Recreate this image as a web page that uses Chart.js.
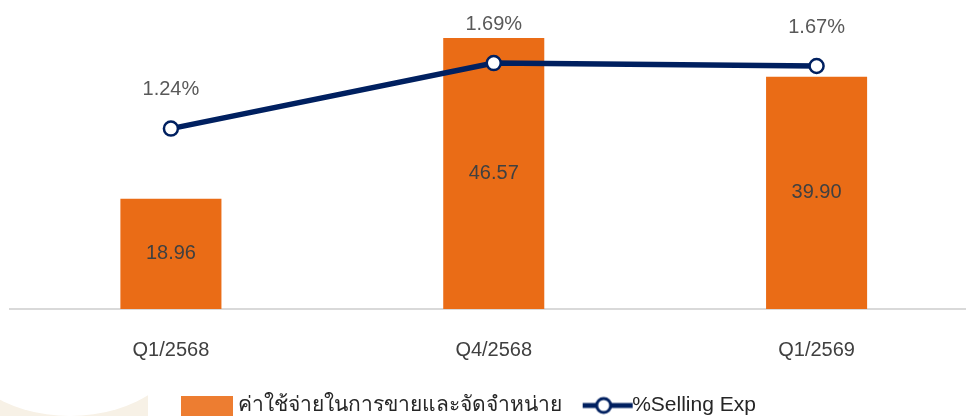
<!DOCTYPE html>
<html>
<head>
<meta charset="utf-8">
<script src="https://cdn.jsdelivr.net/npm/chart.js@4.4.1/dist/chart.umd.min.js"></script>
<style>
  html, body { margin: 0; padding: 0; background: #fff; overflow: hidden; width: 966px; height: 416px; }
  .deco { position: absolute; left: 0; top: 380px; width: 148px; height: 36px; background: #f7f1e6; overflow: hidden; }
  .deco div { position: absolute; left: -50px; top: -136px; width: 240px; height: 172px; border-radius: 50%; background: #fff; }
  .wrap { position: absolute; left: 0; top: 0; width: 990px; height: 426px; }
</style>
</head>
<body>
<div class="deco"><div></div></div>
<div class="wrap"><canvas id="chart"></canvas></div>
<script>
const categories = ["Q1/2568", "Q4/2568", "Q1/2569"];
const sellingExp = [18.96, 46.57, 39.90];
const sellingPct = [1.24, 1.69, 1.67];
const seriesNames = ["ค่าใช้จ่ายในการขายและจัดจำหน่าย", "%Selling Exp"];

const orange = "#EA6C16";
const navy = "#002060";

// little pictures for the legend markers
function makeBoxIcon() {
  const c = document.createElement("canvas");
  c.width = 52; c.height = 20;
  const g = c.getContext("2d");
  g.fillStyle = "#ED7D31";
  g.fillRect(0, 0, 52, 20);
  return c;
}
function makeLineIcon() {
  const c = document.createElement("canvas");
  c.width = 100; c.height = 20;
  const g = c.getContext("2d");
  g.strokeStyle = navy;
  g.lineWidth = 5;
  g.beginPath(); g.moveTo(31, 10); g.lineTo(81, 10); g.stroke();
  g.beginPath(); g.arc(52, 10, 7, 0, Math.PI * 2);
  g.fillStyle = "#fff"; g.fill();
  g.lineWidth = 3; g.stroke();
  return c;
}

const valueLabels = {
  id: "valueLabels",
  afterDatasetsDraw(chart) {
    const ctx = chart.ctx;
    ctx.save();
    ctx.font = "20px 'Liberation Sans', Arial, sans-serif";
    ctx.textAlign = "center";
    ctx.textBaseline = "middle";
    chart.getDatasetMeta(1).data.forEach((bar, i) => {
      ctx.fillStyle = "#404040";
      ctx.fillText(sellingExp[i].toFixed(2), bar.x, (bar.y + bar.base) / 2);
    });
    chart.getDatasetMeta(0).data.forEach((pt, i) => {
      ctx.fillStyle = "#595959";
      ctx.fillText(sellingPct[i].toFixed(2) + "%", pt.x, pt.y - 39);
    });
    ctx.restore();
  }
};

const legendShift = {
  id: "legendShift",
  afterLayout(chart) {
    chart.legend.left -= 21;
    chart.legend.right -= 21;
  }
};

new Chart(document.getElementById("chart"), {
  data: {
    labels: categories,
    datasets: [
      {
        type: "line",
        label: seriesNames[1],
        data: sellingPct,
        yAxisID: "y1",
        borderColor: navy,
        borderWidth: 5.5,
        pointRadius: 7,
        pointBorderWidth: 2.5,
        pointBackgroundColor: "#fff",
        pointBorderColor: navy,
        order: 0
      },
      {
        type: "bar",
        label: seriesNames[0],
        data: sellingExp,
        yAxisID: "y",
        backgroundColor: orange,
        categoryPercentage: 1,
        barPercentage: 0.313,
        order: 1
      }
    ]
  },
  options: {
    responsive: true,
    maintainAspectRatio: false,
    animation: false,
    layout: { padding: { left: 7, right: 12, top: 18, bottom: 0 } },
    plugins: {
      tooltip: { enabled: false },
      legend: {
        position: "bottom",
        labels: {
          usePointStyle: true,
          pointStyleWidth: 40,
          boxHeight: 20,
          padding: 20,
          color: "#262626",
          font: { size: 21, family: "'Liberation Sans', Arial, sans-serif" },
          generateLabels() {
            return [
              { text: seriesNames[0], pointStyle: makeBoxIcon(), datasetIndex: 1, fontColor: "#262626", lineWidth: 0, strokeStyle: "transparent", fillStyle: "transparent", hidden: false },
              { text: seriesNames[1], pointStyle: makeLineIcon(), datasetIndex: 0, fontColor: "#262626", lineWidth: 0, strokeStyle: "transparent", fillStyle: "transparent", hidden: false }
            ];
          }
        }
      }
    },
    scales: {
      x: {
        grid: { display: false, drawTicks: false },
        border: { display: true, color: "#d9d9d9", width: 2 },
        afterFit(scale) { scale.height = 66; },
        ticks: {
          padding: 29,
          color: "#404040",
          font: { size: 20, family: "'Liberation Sans', Arial, sans-serif" }
        }
      },
      y: { display: false, min: 0, max: 50 },
      y1: { display: false, min: 0, max: 2, position: "right" }
    }
  },
  plugins: [valueLabels, legendShift]
});
</script>
</body>
</html>
